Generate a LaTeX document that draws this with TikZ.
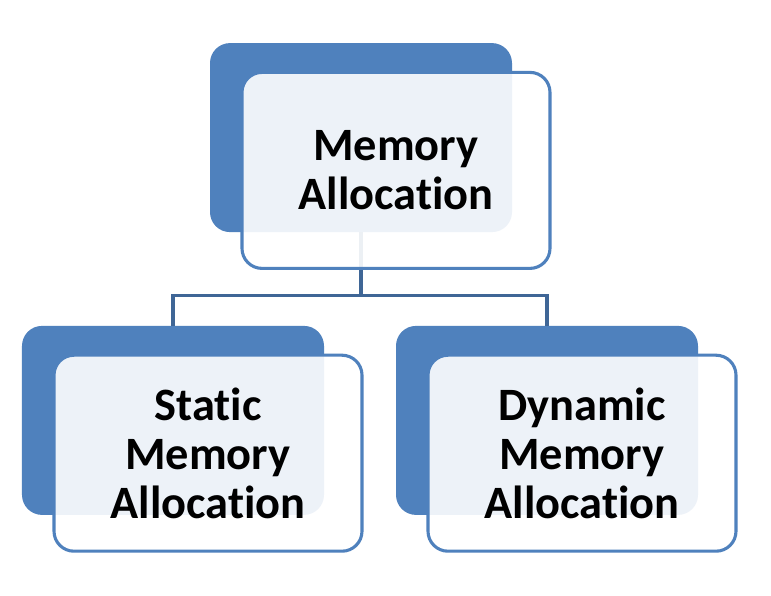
\documentclass[tikz,border=0pt]{standalone}
\usepackage{fontspec}
\setmainfont[Ligatures=NoCommon]{Carlito}
\usepackage{tikz}
\usetikzlibrary{positioning}
\definecolor{accent}{HTML}{4F81BD}
\definecolor{connblue}{HTML}{3F6696}
\tikzstyle{backbox} = [rectangle, rounded corners=0.5cm, minimum width=7.55cm, minimum height=4.725cm, fill=accent, draw=none]
\tikzstyle{frontbox} = [rectangle, rounded corners=0.5cm, minimum width=7.7cm, minimum height=4.9cm, fill=white, fill opacity=0.9, text opacity=1, draw=accent, line width=2.2pt, align=center, font=\fontsize{33}{35}\selectfont\bfseries]
\tikzstyle{conn} = [line width=2.2pt, draw=connblue, line join=miter]

\begin{document}
\begin{tikzpicture}[node distance=9.35cm]
	\useasboundingbox[fill=white] (0,0) rectangle (19.275,-14.9);
	\node (mback) [backbox] at (9.025,-3.44) {};
	\node (sback) [backbox] at (4.325,-10.51) {};
	\node (dback) [backbox, right of=sback] {};
	\coordinate (split) at ([yshift=-1.575cm]mback.south);
	\draw[conn] (mback.south) -- (split);
	\draw[conn] (sback.north) |- (split) -| (dback.north);
	\node (mfront) [frontbox] at ([shift={(0.875,-0.82)}]mback) {Memory\\Allocation};
	\node (sfront) [frontbox] at ([shift={(0.875,-0.82)}]sback) {Static\\Memory\\Allocation};
	\node (dfront) [frontbox] at ([shift={(0.875,-0.82)}]dback) {Dynamic\\Memory\\Allocation};
\end{tikzpicture}
\end{document}
